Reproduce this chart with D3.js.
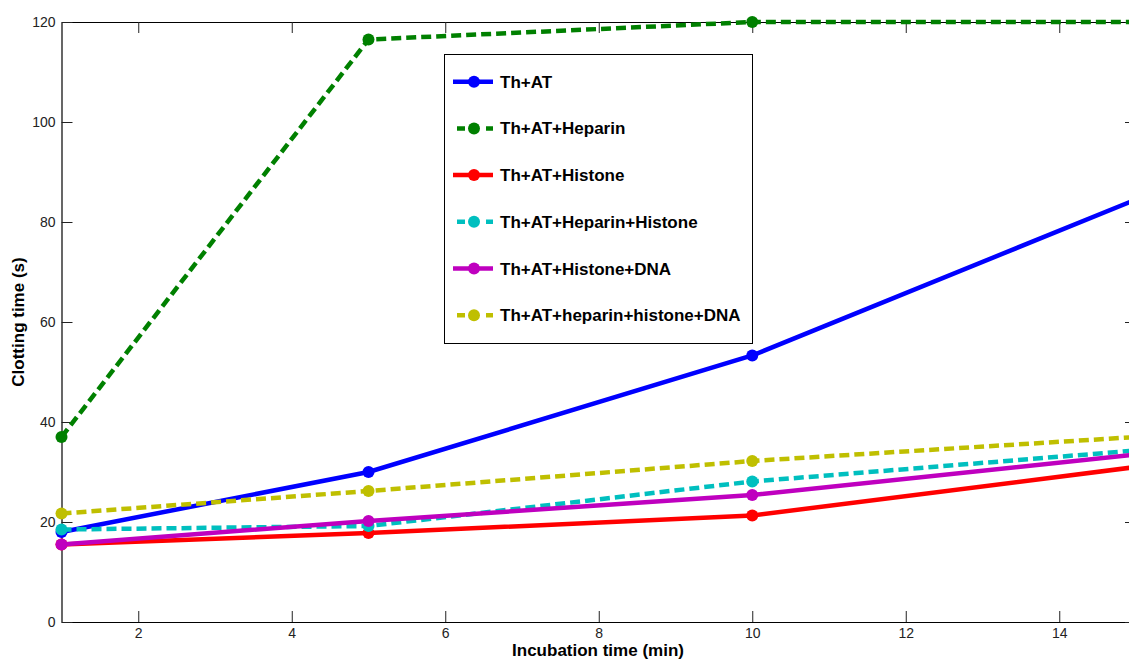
<!DOCTYPE html>
<html><head><meta charset="utf-8">
<script src="https://cdn.jsdelivr.net/npm/d3@7"></script>
<style>body{margin:0;background:#fff;}svg{display:block;}</style>
</head><body>
<script>
const xValues = [1, 5, 10, 15];
const seriesNames = ["Th+AT","Th+AT+Heparin","Th+AT+Histone","Th+AT+Heparin+Histone","Th+AT+Histone+DNA","Th+AT+heparin+histone+DNA"];
const thAT = [18, 30, 53.3, 84.5];
const thATHeparin = [37, 116.5, 120, 120];
const thATHistone = [15.5, 17.8, 21.3, 31];
const thATHeparinHistone = [18.5, 19.2, 28.1, 34.3];
const thATHistoneDNA = [15.5, 20.2, 25.4, 33.5];
const thATHepHisDNA = [21.7, 26.2, 32.2, 37];
const xTicks = [2, 4, 6, 8, 10, 12, 14];
const yTicks = [0, 20, 40, 60, 80, 100, 120];

const seriesValues = [thAT, thATHeparin, thATHistone, thATHeparinHistone, thATHistoneDNA, thATHepHisDNA];
const colors = ["#0000ff","#008000","#ff0000","#00bfbf","#bf00bf","#bfbf00"];
const dashed = [false, true, false, true, false, true];

const W = 1129, H = 662;
const svg = d3.select("body").append("svg").attr("width", W).attr("height", H);
const L = 61.5, R = 1136, T = 22, B = 622;
const x = d3.scaleLinear().domain([1, 15]).range([L, R]);
const y = d3.scaleLinear().domain([0, 120]).range([B, T]);
const font = "'Liberation Sans', Arial, sans-serif";

// axes box
const g = svg.append("g");
const tickLen = 11;
const axB = g.append("g").attr("transform", `translate(0,${B})`)
  .call(d3.axisBottom(x).tickValues(xTicks).tickSizeInner(-tickLen).tickSizeOuter(0).tickPadding(4));
const axT = g.append("g").attr("transform", `translate(0,${T})`)
  .call(d3.axisTop(x).tickValues(xTicks).tickSizeInner(-tickLen).tickSizeOuter(0).tickFormat(""));
const axL = g.append("g").attr("transform", `translate(${L},0)`)
  .call(d3.axisLeft(y).tickValues(yTicks).tickSizeInner(-tickLen).tickSizeOuter(0).tickPadding(6));
const axR = g.append("g").attr("transform", `translate(${R},0)`)
  .call(d3.axisRight(y).tickValues(yTicks).tickSizeInner(-tickLen).tickSizeOuter(0).tickFormat(""));
[axB, axT, axL, axR].forEach(a => {
  a.select(".domain").attr("stroke", "#000").attr("stroke-width", 1.2);
  a.selectAll(".tick line").attr("stroke", "#222").attr("stroke-width", 1);
  a.selectAll("text").attr("font-family", font).attr("font-size", 14).attr("fill", "#222");
});
axB.selectAll("text").attr("dy", "0.85em");

// lines
const line = d3.line().x((d, i) => x(xValues[i])).y(d => y(d));
seriesValues.forEach((vals, s) => {
  svg.append("path").datum(vals).attr("d", line)
    .attr("fill", "none").attr("stroke", colors[s]).attr("stroke-width", 4.5)
    .attr("stroke-dasharray", dashed[s] ? "10,5" : null);
  svg.selectAll(null).data(vals).enter().append("circle")
    .attr("cx", (d, i) => x(xValues[i])).attr("cy", d => y(d)).attr("r", 6)
    .attr("fill", colors[s]);
});

// axis labels
svg.append("text").attr("x", 598).attr("y", 656).attr("text-anchor", "middle")
  .attr("font-family", font).attr("font-size", 17).attr("font-weight", "bold").text("Incubation time (min)");
svg.append("text").attr("transform", "translate(24,322) rotate(-90)").attr("text-anchor", "middle")
  .attr("font-family", font).attr("font-size", 17).attr("font-weight", "bold").text("Clotting time (s)");

// legend
const leg = svg.append("g");
leg.append("rect").attr("x", 444.5).attr("y", 54.5).attr("width", 308).attr("height", 289)
  .attr("fill", "#fff").attr("stroke", "#000").attr("stroke-width", 1);
seriesNames.forEach((name, s) => {
  const cy = 81.7 + s * 46.7;
  leg.append("line").attr("x1", dashed[s] ? 457 : 453).attr("x2", 493).attr("y1", cy).attr("y2", cy)
    .attr("stroke", colors[s]).attr("stroke-width", 4.5)
    .attr("stroke-dasharray", dashed[s] ? "8,21" : null);
  leg.append("circle").attr("cx", 474).attr("cy", cy).attr("r", 6).attr("fill", colors[s]);
  leg.append("text").attr("x", 500).attr("y", cy + 6).attr("font-family", font)
    .attr("font-size", 17).attr("font-weight", "bold").attr("fill", "#000").text(name);
});
</script>
</body></html>
